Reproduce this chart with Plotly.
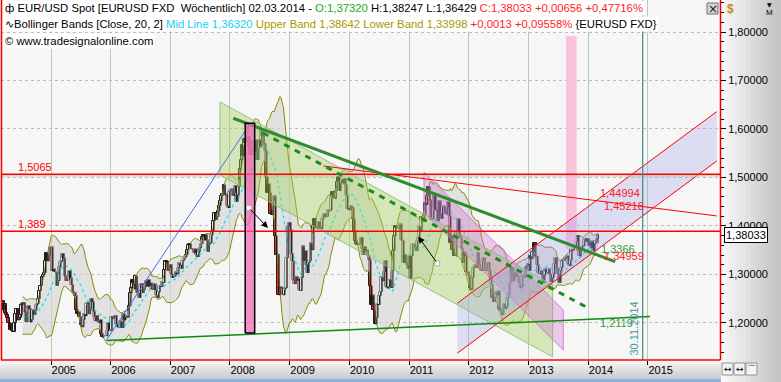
import numpy as np
import pandas as pd
import plotly.graph_objects as go

# ---------------- data: weekly closes (EUR/USD, bars dated Sunday) ----------------
start_week = "2004-02-29"
first_open = 1.2480
close_2004 = [1.2440, 1.2450, 1.2270, 1.2380, 1.2200, 1.2160, 1.2110, 1.1990, 1.1860, 1.1970,
              1.1840, 1.1820, 1.2000, 1.2180, 1.2290, 1.2050, 1.2100, 1.2160, 1.2370, 1.2380,
              1.2420, 1.2220, 1.2020, 1.2280, 1.2350, 1.2290, 1.2010, 1.2070, 1.2260, 1.2170,
              1.2270, 1.2370, 1.2400, 1.2500, 1.2660, 1.2770, 1.2950, 1.2980, 1.3030, 1.3270,
              1.3440, 1.3270, 1.3390, 1.3550]
close_2005 = [1.3560, 1.3070, 1.3110, 1.3050, 1.3040, 1.2770, 1.2860, 1.3150, 1.3250, 1.3270, 1.3430, 1.3330, 1.2960,
              1.2870, 1.2890, 1.2890, 1.3070, 1.2920, 1.2790, 1.2640, 1.2620, 1.2560, 1.2270, 1.2190, 1.2220, 1.2130,
              1.1960, 1.1910, 1.2060, 1.2180, 1.2140, 1.2380, 1.2420, 1.2180, 1.2300, 1.2500, 1.2430, 1.2240, 1.2130,
              1.2030, 1.2150, 1.2050, 1.2000, 1.2060, 1.1780, 1.1700, 1.1720, 1.1720, 1.1720, 1.1830, 1.2000, 1.1860]
close_2006 = [1.1840, 1.2130, 1.2090, 1.2130, 1.2150, 1.1980, 1.1910, 1.1910, 1.1900, 1.2030, 1.1900, 1.2180, 1.2050,
              1.2120, 1.2140, 1.2110, 1.2340, 1.2620, 1.2720, 1.2880, 1.2820, 1.2690, 1.2960, 1.2620, 1.2620, 1.2520,
              1.2790, 1.2810, 1.2620, 1.2680, 1.2740, 1.2870, 1.2750, 1.2890, 1.2760, 1.2820, 1.2690, 1.2680, 1.2800,
              1.2680, 1.2570, 1.2520, 1.2640, 1.2760, 1.2740, 1.2840, 1.2830, 1.3090, 1.3280, 1.3260, 1.3080, 1.3130, 1.3200]
close_2007 = [1.3000, 1.2930, 1.2950, 1.2960, 1.3040, 1.3000, 1.3130, 1.3230, 1.3200, 1.3120, 1.3270, 1.3310, 1.3350,
              1.3410, 1.3510, 1.3600, 1.3630, 1.3530, 1.3520, 1.3510, 1.3440, 1.3520, 1.3400, 1.3360, 1.3460, 1.3540,
              1.3630, 1.3780, 1.3820, 1.3700, 1.3820, 1.3700, 1.3470, 1.3620, 1.3650, 1.3810, 1.3880, 1.4110, 1.4270,
              1.4130, 1.4190, 1.4310, 1.4420, 1.4510, 1.4620, 1.4650, 1.4840, 1.4630, 1.4650, 1.4420, 1.4370, 1.4710]
close_2008 = [1.4750, 1.4760, 1.4620, 1.4680, 1.4830, 1.4500, 1.4640, 1.4810, 1.5180, 1.5350, 1.5660, 1.5440, 1.5800,
              1.5720, 1.5800, 1.5830, 1.5620, 1.5460, 1.5480, 1.5470, 1.5760, 1.5530, 1.5770, 1.5360, 1.5610, 1.5780,
              1.5640, 1.5950, 1.5860, 1.5700, 1.5550, 1.5000, 1.4680, 1.4860, 1.4680, 1.4250, 1.4230, 1.4530, 1.4610,
              1.3790, 1.3410, 1.3410, 1.2570, 1.2740, 1.2730, 1.2590, 1.2570, 1.2690, 1.2720, 1.3340, 1.4000, 1.4070]
close_2009 = [1.3920, 1.3430, 1.3270, 1.2880, 1.2800, 1.2950, 1.2870, 1.2910, 1.2670, 1.2660, 1.2930, 1.3580, 1.3280,
              1.3480, 1.3200, 1.3030, 1.3240, 1.3280, 1.3640, 1.3500, 1.3990, 1.4150, 1.3960, 1.3990, 1.3930, 1.4080,
              1.3980, 1.3930, 1.4140, 1.4190, 1.4250, 1.4180, 1.4190, 1.4320, 1.4300, 1.4320, 1.4570, 1.4710, 1.4600,
              1.4560, 1.4720, 1.4910, 1.5010, 1.4720, 1.4880, 1.4950, 1.4880, 1.4970, 1.4850, 1.4630, 1.4340, 1.4370]
close_2010 = [1.4320, 1.4410, 1.4380, 1.4140, 1.3870, 1.3680, 1.3630, 1.3610, 1.3630, 1.3630, 1.3760, 1.3530, 1.3410,
              1.3570, 1.3480, 1.3500, 1.3380, 1.3290, 1.2760, 1.2360, 1.2570, 1.2260, 1.1970, 1.2110, 1.2390, 1.2370,
              1.2560, 1.2640, 1.2940, 1.2860, 1.3050, 1.3280, 1.2740, 1.2710, 1.2750, 1.2890, 1.2720, 1.3070, 1.3490,
              1.3790, 1.3990, 1.3960, 1.3960, 1.3940, 1.4030, 1.3710, 1.3690, 1.3240, 1.3410, 1.3230, 1.3190, 1.3110]
close_2011 = [1.3380, 1.2910, 1.3380, 1.3610, 1.3620, 1.3580, 1.3490, 1.3690, 1.3750, 1.3990, 1.3900, 1.4180, 1.4090,
              1.4230, 1.4480, 1.4430, 1.4620, 1.4810, 1.4530, 1.4120, 1.4150, 1.4340, 1.4630, 1.4340, 1.4300, 1.4100,
              1.4510, 1.4260, 1.4150, 1.4390, 1.4400, 1.4280, 1.4240, 1.4390, 1.4490, 1.4200, 1.3650, 1.3790, 1.3500,
              1.3390, 1.3380, 1.3880, 1.3890, 1.4140, 1.3790, 1.3750, 1.3520, 1.3240, 1.3460, 1.3380, 1.3040, 1.3050]
close_2012 = [1.2960, 1.2720, 1.2680, 1.2930, 1.3130, 1.3150, 1.3190, 1.3140, 1.3450, 1.3200, 1.3120, 1.3070, 1.3270,
              1.3340, 1.3090, 1.3070, 1.3220, 1.3240, 1.3080, 1.2920, 1.2780, 1.2520, 1.2430, 1.2510, 1.2630, 1.2570,
              1.2660, 1.2290, 1.2250, 1.2160, 1.2310, 1.2390, 1.2290, 1.2330, 1.2510, 1.2580, 1.2820, 1.3130, 1.2980,
              1.2860, 1.3040, 1.2950, 1.3020, 1.2940, 1.2830, 1.2710, 1.2740, 1.2970, 1.2990, 1.2930, 1.3160, 1.3180, 1.3220]
close_2013 = [1.3070, 1.3370, 1.3320, 1.3460, 1.3640, 1.3370, 1.3360, 1.3190, 1.3020, 1.3000, 1.3080, 1.2990, 1.2820,
              1.2990, 1.3110, 1.3050, 1.3030, 1.3110, 1.2990, 1.2840, 1.2930, 1.3010, 1.3220, 1.3340, 1.3120, 1.3010,
              1.2830, 1.3070, 1.3140, 1.3280, 1.3280, 1.3340, 1.3330, 1.3380, 1.3220, 1.3180, 1.3290, 1.3520, 1.3490,
              1.3560, 1.3550, 1.3680, 1.3800, 1.3490, 1.3370, 1.3500, 1.3560, 1.3590, 1.3700, 1.3740, 1.3670, 1.3740]
close_2014 = [1.3590, 1.3670, 1.3540, 1.3680, 1.3490, 1.3630, 1.3690, 1.37377, 1.38033]

# header values of the last bar / indicator
last_open, last_high, last_low, last_close = 1.37320, 1.38247, 1.36429, 1.38033
last_change, last_change_pct = 0.00656, 0.47716
bb_period, bb_k = 20, 2
bb_mid_hdr, bb_up_hdr, bb_lo_hdr = 1.36320, 1.38642, 1.33998
bb_change, bb_change_pct = 0.0013, 0.09558

# ---------------- drawing objects (date, price) ----------------
red_levels = [1.5065, 1.389]
red_level_labels = ["1,5065", "1,389"]
green_level = 1.5031

blue_trend_x = ["2005-12-07", "2008-05-02"]
blue_trend_y = [1.1649, 1.6103]
green_top_x = ["2008-01-21", "2014-06-14"]
green_top_y = [1.6221, 1.3264]
green_mid_x = ["2008-07-21", "2013-12-30"]
green_mid_y = [1.5918, 1.2309]
green_base_x = ["2005-12-07", "2015-01-14"]
green_base_y = [1.1635, 1.2130]
red_trend_x = ["2009-07-25", "2016-02-26"]
red_trend_y = [1.5237, 1.4206]

green_ch_x = ["2007-11-01", "2013-05-28", "2013-05-28", "2007-11-01"]
green_ch_y = [1.6557, 1.2784, 1.1299, 1.5052]
magenta_ch_x = ["2011-04-02", "2013-08-01", "2013-08-01", "2011-04-02"]
magenta_ch_y = [1.5107, 1.2268, 1.1443, 1.4280]
lav_ch_x = ["2011-10-23", "2016-02-26", "2016-02-26", "2011-10-23"]
lav_ch_y = [1.2406, 1.6357, 1.5340, 1.1375]

bar08_x = ["2008-04-03", "2008-05-31"]
bar08_y = [1.1794, 1.6117]
bar13_x = ["2013-08-18", "2013-10-22"]
bar13_y = [1.352, 1.7918]

vline_date = "2014-11-30"
vline_label = "30.11.2014"

arrow_tail_x = ["2008-04-26", "2011-06-22"]
arrow_tail_y = [1.4371, 1.3231]
arrow_head_x = ["2008-08-20", "2011-02-26"]
arrow_head_y = [1.3959, 1.3780]

lab_text = ["1,44994", "1,45218", "1,3366", "1,34959", "1,2119"]
lab_x = ["2014-03-01", "2014-03-24", "2014-03-08", "2014-03-24", "2014-03-01"]
lab_y = [1.4670, 1.4412, 1.3515, 1.3381, 1.2000]
lab_color = ["#ff2020", "#ff2020", "#3c9a3c", "#ff2020", "#3c9a3c"]

year_ticks = list(range(2005, 2016))

# ---------------- derived series ----------------
close = np.array(close_2004 + close_2005 + close_2006 + close_2007 + close_2008 + close_2009 +
                 close_2010 + close_2011 + close_2012 + close_2013 + close_2014)
dates = pd.date_range(start_week, periods=len(close), freq="7D")
opn = np.r_[first_open, close[:-1]]
opn[-1] = last_open
high = np.maximum(opn, close)
low = np.minimum(opn, close)
high[-1] = last_high
low[-1] = last_low

s = pd.Series(close)
bb_mid = s.rolling(bb_period).mean()
bb_sd = s.rolling(bb_period).std(ddof=0)
bb_up = bb_mid + bb_k * bb_sd
bb_lo = bb_mid - bb_k * bb_sd
v = bb_mid.notna().values

FONT = "Liberation Sans"
DAY_MS = 86400000


def fmt(x, d=5):
    return f"{x:.{d}f}".replace(".", ",")


def px_x(px):
    return (px - 1) / 719.0


def px_y(py):
    return 1 - py / 360.0


fig = go.Figure()

# Bollinger bands (below candles)
fig.add_trace(go.Scatter(x=dates[v], y=bb_lo[v], mode="lines",
                         line=dict(color="#8c8a00", width=1), hoverinfo="skip", showlegend=False))
fig.add_trace(go.Scatter(x=dates[v], y=bb_up[v], mode="lines", fill="tonexty",
                         fillcolor="rgba(212,212,212,0.6)",
                         line=dict(color="#8c8a00", width=1), hoverinfo="skip", showlegend=False))
fig.add_trace(go.Scatter(x=dates[v], y=bb_mid[v], mode="lines",
                         line=dict(color="#00e6f6", width=1.2, dash="dot"), hoverinfo="skip", showlegend=False))

# light pink marker bar (below candles)
fig.add_trace(go.Scatter(x=[bar13_x[0], bar13_x[1], bar13_x[1], bar13_x[0], bar13_x[0]],
                         y=[bar13_y[0], bar13_y[0], bar13_y[1], bar13_y[1], bar13_y[0]],
                         mode="lines", fill="toself", fillcolor="rgba(248,190,216,0.9)",
                         line=dict(width=0), hoverinfo="skip", showlegend=False))

# candles: wicks + bodies
wx, wy = [], []
for d, h, l in zip(dates, high, low):
    wx += [d, d, None]
    wy += [l, h, None]
fig.add_trace(go.Scatter(x=wx, y=wy, mode="lines", line=dict(color="#1a1a1a", width=1),
                         hoverinfo="skip", showlegend=False))
body_h = np.maximum(np.abs(close - opn), 0.0012)
body_c = np.where(close >= opn, "#f2f2f2", "#ff2020")
fig.add_trace(go.Bar(x=dates, base=np.minimum(opn, close), y=body_h, width=17 * DAY_MS,
                     marker=dict(color=body_c, line=dict(color="#1c1c1c", width=1)),
                     hoverinfo="skip", showlegend=False))

# channels (translucent, over candles)
fig.add_trace(go.Scatter(x=green_ch_x + green_ch_x[:1], y=green_ch_y + green_ch_y[:1], mode="lines",
                         fill="toself", fillcolor="rgba(165,208,95,0.40)",
                         line=dict(color="rgba(140,190,120,0.9)", width=1), hoverinfo="skip", showlegend=False))
fig.add_trace(go.Scatter(x=magenta_ch_x + magenta_ch_x[:1], y=magenta_ch_y + magenta_ch_y[:1], mode="lines",
                         fill="toself", fillcolor="rgba(205,120,205,0.35)",
                         line=dict(color="rgba(215,110,215,0.9)", width=1), hoverinfo="skip", showlegend=False))
fig.add_trace(go.Scatter(x=lav_ch_x + lav_ch_x[:1], y=lav_ch_y + lav_ch_y[:1], mode="lines",
                         fill="toself", fillcolor="rgba(160,160,235,0.30)",
                         line=dict(width=0), hoverinfo="skip", showlegend=False))
# red channel edges
for i0, i1 in [(0, 1), (3, 2)]:
    fig.add_trace(go.Scatter(x=[lav_ch_x[i0], lav_ch_x[i1]], y=[lav_ch_y[i0], lav_ch_y[i1]], mode="lines",
                             line=dict(color="#ff0000", width=1), hoverinfo="skip", showlegend=False))

# horizontal levels
x_full = ["2004-01-01", "2017-01-01"]
fig.add_trace(go.Scatter(x=x_full, y=[green_level] * 2, mode="lines",
                         line=dict(color="#a8cca0", width=1), hoverinfo="skip", showlegend=False))
for lv in red_levels:
    fig.add_trace(go.Scatter(x=x_full, y=[lv, lv], mode="lines",
                             line=dict(color="#ff0000", width=1.5), hoverinfo="skip", showlegend=False))

# trend lines
fig.add_trace(go.Scatter(x=red_trend_x, y=red_trend_y, mode="lines",
                         line=dict(color="#ff0000", width=1), hoverinfo="skip", showlegend=False))
fig.add_trace(go.Scatter(x=blue_trend_x, y=blue_trend_y, mode="lines",
                         line=dict(color="#4a6ae8", width=1), hoverinfo="skip", showlegend=False))
fig.add_trace(go.Scatter(x=green_base_x, y=green_base_y, mode="lines",
                         line=dict(color="#108a10", width=1.5), hoverinfo="skip", showlegend=False))
fig.add_trace(go.Scatter(x=green_top_x, y=green_top_y, mode="lines",
                         line=dict(color="#2e8b2e", width=3), hoverinfo="skip", showlegend=False))
fig.add_trace(go.Scatter(x=green_mid_x, y=green_mid_y, mode="lines",
                         line=dict(color="#1f8a1f", width=3, dash="6px,6px"), hoverinfo="skip", showlegend=False))

# vertical date marker
fig.add_trace(go.Scatter(x=[vline_date, vline_date], y=[1.0, 2.0], mode="lines",
                         line=dict(color="#3a8a8a", width=1.2), hoverinfo="skip", showlegend=False))

# hot pink bar 2008 (over candles)
fig.add_trace(go.Scatter(x=[bar08_x[0], bar08_x[1], bar08_x[1], bar08_x[0], bar08_x[0]],
                         y=[bar08_y[0], bar08_y[0], bar08_y[1], bar08_y[1], bar08_y[0]],
                         mode="lines", fill="toself", fillcolor="rgba(244,100,182,0.72)",
                         line=dict(color="#000000", width=1.5), hoverinfo="skip", showlegend=False))

# arrow tails
fig.add_trace(go.Scatter(x=arrow_tail_x, y=arrow_tail_y, mode="markers",
                         marker=dict(symbol="square", size=5, color="#fffff0",
                                     line=dict(color="#b0b0b0", width=1)),
                         hoverinfo="skip", showlegend=False))

ann = []
for tx, ty, hx, hy in zip(arrow_tail_x, arrow_tail_y, arrow_head_x, arrow_head_y):
    ann.append(dict(x=hx, y=hy, ax=tx, ay=ty, xref="x", yref="y", axref="x", ayref="y",
                    text="", showarrow=True, arrowhead=2, arrowsize=1.3, arrowwidth=1,
                    arrowcolor="#000000"))

for lv, lt in zip(red_levels, red_level_labels):
    ann.append(dict(x=px_x(16), y=lv, xref="paper", yref="y", text=lt, showarrow=False,
                    xanchor="left", yanchor="bottom", yshift=-1,
                    font=dict(family=FONT, size=11, color="#ff0000")))

for t, lx, ly, c in zip(lab_text, lab_x, lab_y, lab_color):
    ann.append(dict(x=lx, y=ly, xref="x", yref="y", text=t, showarrow=False,
                    xanchor="left", yanchor="middle", font=dict(family=FONT, size=11, color=c)))

ann.append(dict(x=vline_date, y=1.1278, xref="x", yref="y", text=vline_label, showarrow=False,
                textangle=-90, xanchor="right", yanchor="bottom", xshift=-1,
                font=dict(family=FONT, size=11, color="#4a9a9a")))

# header rows
row1 = ("ф EUR/USD Spot [EURUSD FXD&nbsp; Wöchentlich] 02.03.2014 - "
        f"<span style='color:#22aa22'>O:{fmt(last_open)}</span> H:{fmt(last_high)} L:{fmt(last_low)} "
        f"<span style='color:#ff1e1e'>C:{fmt(last_close)} +{fmt(last_change)} +{fmt(last_change_pct)}%</span>")
row2 = ("∿Bollinger Bands [Close, 20, 2] "
        f"<span style='color:#10d0f0'>Mid Line {fmt(bb_mid_hdr)}</span> "
        f"<span style='color:#a89800'>Upper Band {fmt(bb_up_hdr)} Lower Band {fmt(bb_lo_hdr)}</span> "
        f"<span style='color:#ff1e1e'>+{fmt(bb_change, 4)} +{fmt(bb_change_pct)}%</span> {{EURUSD FXD}}")
row3 = "© www.tradesignalonline.com"
for txt, yy in [(row1, 8), (row2, 24.5), (row3, 41)]:
    ann.append(dict(x=px_x(3), y=px_y(yy), xref="paper", yref="paper", text=txt, showarrow=False,
                    xanchor="left", yanchor="middle", bgcolor="#ffffff", borderpad=1,
                    font=dict(family=FONT, size=11.3, color="#000000")))

# right panel decorations
ann.append(dict(x=px_x(725), y=px_y(9), xref="paper", yref="paper", text="<b>$</b>", showarrow=False,
                xanchor="left", yanchor="middle", font=dict(family=FONT, size=12, color="#c8821e")))
ann.append(dict(x=px_x(769), y=px_y(5), xref="paper", yref="paper", text="▼", showarrow=False,
                xanchor="center", yanchor="middle", font=dict(family="DejaVu Sans", size=6, color="#000000")))
ann.append(dict(x=px_x(769), y=px_y(13), xref="paper", yref="paper", text="M", showarrow=False,
                xanchor="center", yanchor="middle", font=dict(family=FONT, size=8, color="#000000")))
ann.append(dict(x=px_x(712.5), y=px_y(8.5), xref="paper", yref="paper", text="×", showarrow=False,
                xanchor="center", yanchor="middle", font=dict(family="DejaVu Sans", size=12, color="#202020")))
ann.append(dict(x=px_x(724), y=last_close, xref="paper", yref="y", text=fmt(last_close), showarrow=False,
                xanchor="left", yanchor="middle", bgcolor="#ffffff", bordercolor="#000000", borderwidth=1,
                borderpad=1, font=dict(family=FONT, size=11, color="#000000")))
for bx, sym in [(727.5, "↔"), (739.5, "↔"), (751.5, "⌒")]:
    ann.append(dict(x=px_x(bx), y=px_y(369), xref="paper", yref="paper", text=sym, showarrow=False,
                    xanchor="center", yanchor="middle", font=dict(family="DejaVu Sans", size=9, color="#000000")))

shapes = []
# right panel gradient
n = 12
for i in range(n):
    c = int(248 - 52 * i / (n - 1))
    shapes.append(dict(type="rect", xref="paper", yref="paper", x0=px_x(720 + i * 61 / n),
                       x1=px_x(720 + (i + 1) * 61 / n + 0.5), y0=px_y(382), y1=px_y(0),
                       fillcolor=f"rgb({c},{c},{c})", line=dict(width=0), layer="below"))
# bottom strip gradient
m = 9
for i in range(m):
    c = int(246 - 40 * i / (m - 1))
    shapes.append(dict(type="rect", xref="paper", yref="paper", x0=px_x(0), x1=px_x(721),
                       y0=px_y(360 + (i + 1) * 18 / m + 0.3), y1=px_y(360 + i * 18 / m),
                       fillcolor=f"rgb({c},{c},{c})", line=dict(width=0), layer="below"))
shapes.append(dict(type="rect", xref="paper", yref="paper", x0=px_x(0), x1=px_x(721),
                   y0=px_y(382), y1=px_y(378.5), fillcolor="#8fb2de", line=dict(width=0), layer="below"))
# buttons bottom right
for bx in [722, 734, 746]:
    shapes.append(dict(type="rect", xref="paper", yref="paper", x0=px_x(bx), x1=px_x(bx + 11),
                       y0=px_y(375), y1=px_y(363), fillcolor="#f4f4f4",
                       line=dict(color="#909090", width=1), layer="above"))
# close button
shapes.append(dict(type="rect", xref="paper", yref="paper", x0=px_x(707), x1=px_x(718),
                   y0=px_y(14), y1=px_y(3), fillcolor="#d4d4d4",
                   line=dict(color="#707070", width=1), layer="above"))
# red frame: left, bottom, right
for x0, y0, x1, y1 in [(1.5, 0, 1.5, 360), (1, 360, 720.5, 360), (720.5, 0, 720.5, 360)]:
    shapes.append(dict(type="line", xref="paper", yref="paper", x0=px_x(x0), x1=px_x(x1),
                       y0=px_y(y0), y1=px_y(y1), line=dict(color="#ff0000", width=1.5), layer="above"))

fig.update_layout(
    width=781, height=382, margin=dict(l=1, r=61, t=0, b=22),
    paper_bgcolor="#f0f0f0", plot_bgcolor="#f6f6f6", barmode="overlay", bargap=0,
    separators=",.", showlegend=False, font=dict(family=FONT, size=11, color="#000000"),
    annotations=ann, shapes=shapes,
    xaxis=dict(type="date", range=["2004-03-01", "2016-03-17"], rangeslider=dict(visible=False),
               tickvals=[f"{y}-01-01" for y in year_ticks], ticktext=[str(y) for y in year_ticks],
               ticks="outside", ticklen=4, tickcolor="#000000", ticklabelposition="outside right",
               showgrid=True, gridcolor="#b6ceb0", gridwidth=1, zeroline=False, showline=False,
               tickfont=dict(family=FONT, size=11, color="#000000"), fixedrange=True),
    yaxis=dict(side="right", range=[1.1235, 1.866], tick0=1.2, dtick=0.1, tickformat=".5f",
               ticks="outside", ticklen=5, tickcolor="#000000",
               minor=dict(dtick=0.02, ticks="outside", ticklen=3, tickcolor="#000000", showgrid=False),
               showgrid=True, gridcolor="#bdbdbd", griddash="dot", gridwidth=1, zeroline=False,
               showline=False, tickfont=dict(family=FONT, size=11, color="#000000"), fixedrange=True),
)

fig.write_html("out.html")
